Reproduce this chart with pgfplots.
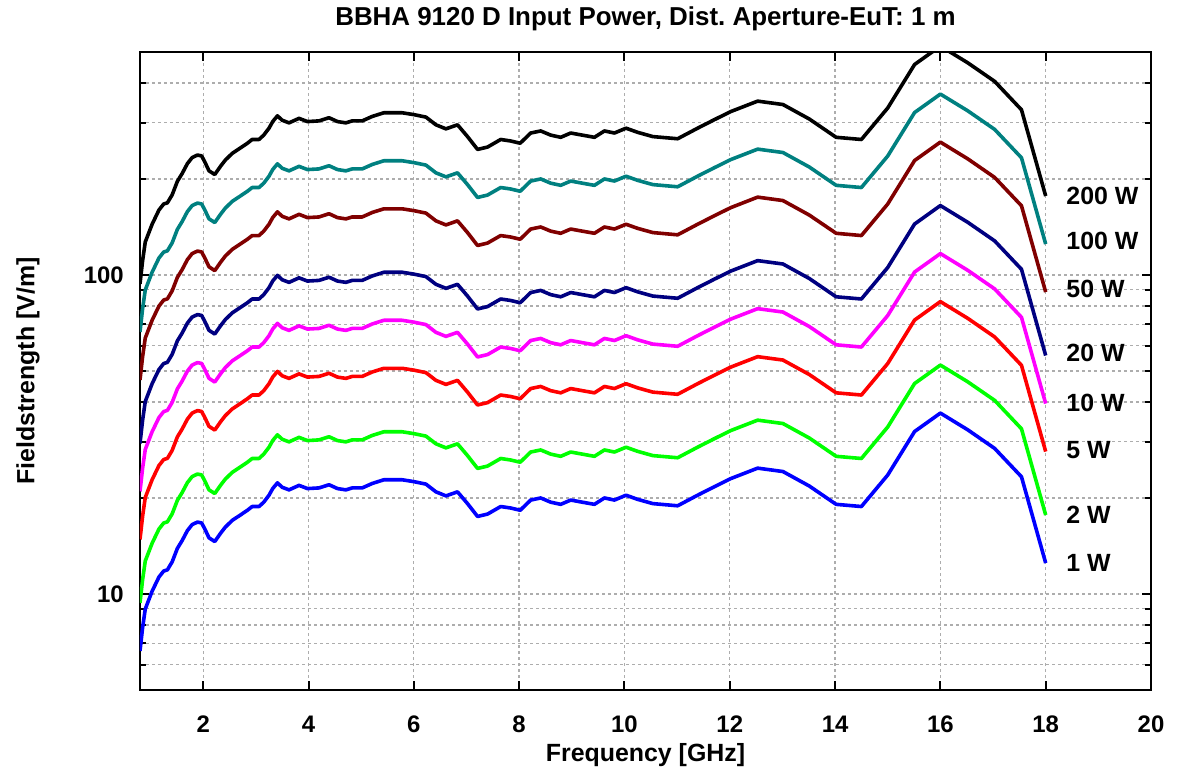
\documentclass[border=0pt]{standalone}
\usepackage{fontspec}
\setmainfont{Liberation Sans}
\usepackage{pgfplots}
\pgfplotsset{compat=1.18}
\usepackage{pgfplotstable}
\definecolor{cteal}{RGB}{0,128,128}
\definecolor{cmaroon}{RGB}{128,0,0}
\definecolor{cnavy}{RGB}{0,0,128}
\definecolor{cmag}{RGB}{255,0,255}
\definecolor{cred}{RGB}{255,0,0}
\definecolor{cgreen}{RGB}{0,255,0}
\definecolor{cblue}{RGB}{0,0,255}

\pgfplotstableread{
f w1 w2 w5 w10 w20 w50 w100 w200
0.80 6.63 9.38 14.83 20.97 29.65 46.88 66.3 93.8
0.85 7.85 11.10 17.55 24.82 35.11 55.51 78.5 111.0
0.90 8.97 12.69 20.06 28.37 40.12 63.43 89.7 126.9
1.03 10.2 14.42 22.81 32.26 45.62 72.12 102 144.2
1.16 11.3 15.98 25.27 35.73 50.54 79.90 113 159.8
1.25 11.8 16.69 26.39 37.31 52.77 83.44 118 166.9
1.32 11.9 16.83 26.61 37.63 53.22 84.15 119 168.3
1.41 12.6 17.82 28.17 39.84 56.35 89.10 126 178.2
1.51 13.9 19.66 31.08 43.96 62.16 98.29 139 196.6
1.60 14.7 20.79 32.87 46.49 65.74 103.9 147 207.9
1.70 15.8 22.34 35.33 49.96 70.66 111.7 158 223.4
1.79 16.5 23.33 36.90 52.18 73.79 116.7 165 233.3
1.89 16.8 23.76 37.57 53.13 75.13 118.8 168 237.6
1.97 16.7 23.62 37.34 52.81 74.68 118.1 167 236.2
2.03 16.0 22.63 35.78 50.60 71.55 113.1 160 226.3
2.11 15.0 21.21 33.54 47.43 67.08 106.1 150 212.1
2.22 14.6 20.65 32.65 46.17 65.29 103.2 146 206.5
2.33 15.5 21.92 34.66 49.02 69.32 109.6 155 219.2
2.42 16.2 22.91 36.22 51.23 72.45 114.6 162 229.1
2.55 17.0 24.04 38.01 53.76 76.03 120.2 170 240.4
2.71 17.7 25.03 39.58 55.97 79.16 125.2 177 250.3
2.84 18.3 25.88 40.92 57.87 81.84 129.4 183 258.8
2.93 18.8 26.59 42.04 59.45 84.08 132.9 188 265.9
3.06 18.8 26.59 42.04 59.45 84.08 132.9 188 265.9
3.15 19.4 27.44 43.38 61.35 86.76 137.2 194 274.4
3.25 20.4 28.85 45.62 64.51 91.23 144.2 204 288.5
3.32 21.4 30.26 47.85 67.67 95.70 151.3 214 302.6
3.41 22.3 31.54 49.86 70.52 99.73 157.7 223 315.4
3.50 21.6 30.55 48.30 68.31 96.60 152.7 216 305.5
3.63 21.2 29.98 47.40 67.04 94.81 149.9 212 299.8
3.82 21.9 30.97 48.97 69.25 97.94 154.9 219 309.7
3.98 21.4 30.26 47.85 67.67 95.70 151.3 214 302.6
4.20 21.5 30.41 48.08 67.99 96.15 152.0 215 304.1
4.39 22.0 31.11 49.19 69.57 98.39 155.6 220 311.1
4.55 21.4 30.26 47.85 67.67 95.70 151.3 214 302.6
4.71 21.2 29.98 47.40 67.04 94.81 149.9 212 299.8
4.83 21.5 30.41 48.08 67.99 96.15 152.0 215 304.1
5.02 21.5 30.41 48.08 67.99 96.15 152.0 215 304.1
5.21 22.2 31.40 49.64 70.20 99.28 157.0 222 314.0
5.43 22.8 32.24 50.98 72.10 101.96 161.2 228 322.4
5.78 22.8 32.24 50.98 72.10 101.96 161.2 228 322.4
6.00 22.5 31.82 50.31 71.15 100.62 159.1 225 318.2
6.23 22.1 31.25 49.42 69.89 98.83 156.3 221 312.5
6.42 20.9 29.56 46.73 66.09 93.47 147.8 209 295.6
6.61 20.3 28.71 45.39 64.19 90.78 143.5 203 287.1
6.83 20.9 29.56 46.73 66.09 93.47 147.8 209 295.6
7.02 19.2 27.15 42.93 60.72 85.87 135.8 192 271.5
7.21 17.5 24.75 39.13 55.34 78.26 123.7 175 247.5
7.40 17.8 25.17 39.80 56.29 79.60 125.9 178 251.7
7.65 18.8 26.59 42.04 59.45 84.08 132.9 188 265.9
7.84 18.6 26.30 41.59 58.82 83.18 131.5 186 263.0
8.02 18.3 25.88 40.92 57.87 81.84 129.4 183 258.8
8.22 19.7 27.86 44.05 62.30 88.10 139.3 197 278.6
8.41 20.0 28.28 44.72 63.25 89.44 141.4 200 282.8
8.60 19.4 27.44 43.38 61.35 86.76 137.2 194 274.4
8.79 19.1 27.01 42.71 60.40 85.42 135.1 191 270.1
8.98 19.7 27.86 44.05 62.30 88.10 139.3 197 278.6
9.20 19.4 27.44 43.38 61.35 86.76 137.2 194 274.4
9.43 19.1 27.01 42.71 60.40 85.42 135.1 191 270.1
9.62 20.0 28.28 44.72 63.25 89.44 141.4 200 282.8
9.81 19.7 27.86 44.05 62.30 88.10 139.3 197 278.6
10.03 20.4 28.85 45.62 64.51 91.23 144.2 204 288.5
10.25 19.8 28.00 44.27 62.61 88.55 140.0 198 280.0
10.54 19.2 27.15 42.93 60.72 85.87 135.8 192 271.5
11.01 18.9 26.73 42.26 59.77 84.52 133.6 189 267.3
11.39 20.4 28.85 45.62 64.51 91.23 144.2 204 288.5
11.71 21.7 30.69 48.52 68.62 97.05 153.4 217 306.9
12.02 23.0 32.53 51.43 72.73 102.86 162.6 230 325.3
12.53 24.8 35.07 55.45 78.42 110.91 175.4 248 350.7
13.01 24.2 34.22 54.11 76.53 108.23 171.1 242 342.2
13.51 21.8 30.83 48.75 68.94 97.49 154.1 218 308.3
14.02 19.1 27.01 42.71 60.40 85.42 135.1 191 270.1
14.50 18.8 26.59 42.04 59.45 84.08 132.9 188 265.9
15.00 23.6 33.38 52.77 74.63 105.54 166.9 236 333.8
15.51 32.3 45.68 72.23 102.14 144.45 228.4 323 456.8
16.00 36.9 52.18 82.51 116.69 165.02 260.9 369 521.8
16.52 32.7 46.24 73.12 103.41 146.24 231.2 327 462.4
17.03 28.6 40.45 63.95 90.44 127.90 202.2 286 404.5
17.54 23.3 32.95 52.10 73.68 104.20 164.8 233 329.5
18.00 12.5 17.68 27.95 39.53 55.90 88.39 125 176.8
}\data

\begin{document}
\begin{tikzpicture}
\begin{axis}[
  name=ax,
  scale only axis,
  width=1011bp, height=638bp,
  ymode=log,
  xmin=0.8, xmax=20, ymin=5, ymax=500,
  xtick={2,4,...,20},
  ytick={10,100}, yticklabels={10,100},
  minor ytick={6,7,8,9,20,30,40,50,60,70,80,90,200,300,400},
  xmajorgrids, ymajorgrids, yminorgrids,
  grid style={dash pattern=on 3bp off 3bp, color=black!32, line width=1.3bp},
  minor grid style={dash pattern=on 3bp off 3bp, color=black!32, line width=1.3bp},
  major tick length=9bp, minor tick length=6bp,
  tick style={line width=2bp, black},
  axis line style={line width=2.2bp},
  /pgf/number format/assume math mode=true,
  ticklabel style={font=\fontsize{24}{28}\selectfont\bfseries, inner sep=0pt},
  xticklabel style={anchor=center, yshift=-34bp},
  yticklabel style={anchor=east, xshift=-16bp},
  title={BBHA 9120 D Input Power, Dist.\ Aperture-EuT: 1 m},
  title style={font=\fontsize{26}{30}\selectfont\bfseries, inner sep=0pt, at={(axis description cs:0.5,1.0314)}, anchor=base},
  xlabel={Frequency [GHz]},
  xlabel style={font=\fontsize{25}{30}\selectfont\bfseries, at={(axis description cs:0.5,-0.1020)}, anchor=center},
  ylabel={Fieldstrength [V/m]},
  ylabel style={font=\fontsize{25}{30}\selectfont\bfseries, at={(axis description cs:-0.1108,0.5)}, anchor=center},
  every axis plot/.append style={line width=3.6bp, line join=round},
]
\addplot[cblue] table[x=f, y=w1] {\data};
\addplot[cgreen] table[x=f, y=w2] {\data};
\addplot[cred] table[x=f, y=w5] {\data};
\addplot[cmag] table[x=f, y=w10] {\data};
\addplot[cnavy] table[x=f, y=w20] {\data};
\addplot[cmaroon] table[x=f, y=w50] {\data};
\addplot[cteal] table[x=f, y=w100] {\data};
\addplot[black] table[x=f, y=w200] {\data};
\begin{scope}[every node/.style={anchor=west, inner sep=0pt, font=\fontsize{25}{30}\selectfont\bfseries}]
\node at (axis cs:18.39,177) {200 W};
\node at (axis cs:18.39,128) {100 W};
\node at (axis cs:18.39,90.3) {50 W};
\node at (axis cs:18.39,56.8) {20 W};
\node at (axis cs:18.39,39.8) {10 W};
\node at (axis cs:18.39,28.3) {5 W};
\node at (axis cs:18.39,17.7) {2 W};
\node at (axis cs:18.39,12.5) {1 W};
\end{scope}
\end{axis}
\pgfresetboundingbox
\useasboundingbox ([xshift=-140bp,yshift=-79bp]ax.south west) rectangle ([xshift=26bp,yshift=52bp]ax.north east);
\end{tikzpicture}
\end{document}
